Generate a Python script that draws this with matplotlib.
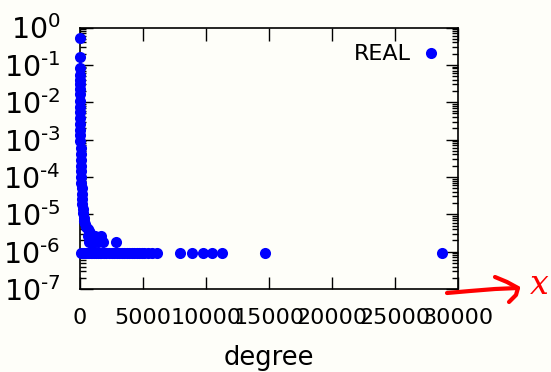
import matplotlib.pyplot as plt
from matplotlib.lines import Line2D
from matplotlib.ticker import LogLocator, FixedLocator, NullLocator

# degree distribution
curve_deg = [1, 2, 3, 4, 5, 6, 7, 8, 10, 12, 14, 17, 20, 24, 28, 33, 40, 48, 56,
             65, 75, 90, 105, 120, 140, 165, 190, 220, 250, 290, 350, 420, 500,
             600, 700, 800, 900, 1000, 1100, 1200]
curve_p = [0.53, 0.16, 0.08, 0.055, 0.04, 0.03, 0.022, 0.017, 0.011, 0.0075,
           0.0055, 0.0037, 0.0026, 0.0018, 0.0013, 0.0009, 0.0006, 0.0004,
           0.00028, 0.0002, 0.00014, 0.0001, 7e-5, 5e-5, 3.6e-5, 2.6e-5,
           1.9e-5, 1.4e-5, 1.05e-5, 8e-6, 6.5e-6, 5.5e-6, 4.6e-6, 4e-6,
           3.6e-6, 3.2e-6, 2.8e-6, 2.5e-6, 2.2e-6, 2e-6]

# single-count floor, then two- and three-count points
floor_deg = [60, 150, 250, 350, 450, 550, 650, 750, 850, 950, 1100, 1250, 1400,
             1550, 1700, 1900, 2100, 2300, 2500, 2700, 2900, 3100, 3300, 3500,
             3700, 3900, 4100, 4300, 4500, 4700, 4900, 5100, 5400, 5700, 6100,
             7900, 8850, 9750, 10450, 11250, 14650, 28700]
floor_p = 9e-7
two_deg = [700, 850, 1000, 1200, 1400, 1830, 2830]
three_deg = [600, 900, 1160, 1700]

x_ticks = [0, 5000, 10000, 15000, 20000, 25000, 30000]
y_ticks = [1e-7, 1e-6, 1e-5, 1e-4, 1e-3, 1e-2, 1e-1, 1e0]
y_exps = ['-7', '-6', '-5', '-4', '-3', '-2', '-1', '0']

bg = '#fefef9'
fig = plt.figure(figsize=(5.51, 3.72), dpi=100, facecolor=bg)
ax = fig.add_axes([80 / 551, 1 - 289 / 372, 378 / 551, 261.5 / 372])
ax.set_facecolor(bg)

all_deg = curve_deg + floor_deg + two_deg + three_deg
all_p = (curve_p + [floor_p] * len(floor_deg) + [2 * floor_p] * len(two_deg)
         + [3 * floor_p] * len(three_deg))
ax.plot(all_deg, all_p, 'o', color='#0000ff', ms=8, mew=0, clip_on=False,
        label='REAL', zorder=3)

ax.set_yscale('log')
ax.set_xlim(0, 30000)
ax.set_ylim(1e-7, 1)
ax.xaxis.set_major_locator(FixedLocator(x_ticks))
ax.xaxis.set_minor_locator(NullLocator())
ax.set_yticks(y_ticks)
# gnuplot-style labels: hyphen rather than minus in the exponent
ax.set_yticklabels([r'$10^{\text{%s}}$' % e for e in y_exps])
ax.yaxis.set_minor_locator(LogLocator(base=10, subs=range(2, 10), numticks=20))
ax.tick_params(axis='both', which='both', direction='in', top=True, right=True,
               color='black', width=1)
ax.tick_params(axis='both', which='major', length=9)
ax.tick_params(axis='both', which='minor', length=4.5)
ax.tick_params(axis='x', labelsize=16, pad=14)
ax.tick_params(axis='y', labelsize=20.5, pad=14)
for s in ax.spines.values():
    s.set_linewidth(1.2)

ax.set_xlabel('degree', fontsize=18.5, labelpad=12)

ax.legend(loc='upper right', bbox_to_anchor=(1.0, 0.995), frameon=False,
          markerfirst=False, fontsize=16, handlelength=1.0,
          handletextpad=0.4, borderaxespad=0.3)

# hand-drawn red arrow with "x"
def px(x, y):
    return x / 551, 1 - y / 372

arrow_x = [447, 470, 495, 518]
arrow_y = [293, 291, 289, 288]
head_x = [495, 507, 518, 516, 509]
head_y = [277, 282, 288, 295, 302]
fig.add_artist(Line2D([px(a, b)[0] for a, b in zip(arrow_x, arrow_y)],
                      [px(a, b)[1] for a, b in zip(arrow_x, arrow_y)],
                      color='red', lw=3, solid_capstyle='round'))
fig.add_artist(Line2D([px(a, b)[0] for a, b in zip(head_x, head_y)],
                      [px(a, b)[1] for a, b in zip(head_x, head_y)],
                      color='red', lw=3, solid_capstyle='round',
                      solid_joinstyle='round'))
fig.text(*px(539, 285), 'x', color='red', fontsize=24, style='italic',
         family='DejaVu Serif', ha='center', va='center')

fig.savefig('out.png', dpi=100, facecolor=bg)
